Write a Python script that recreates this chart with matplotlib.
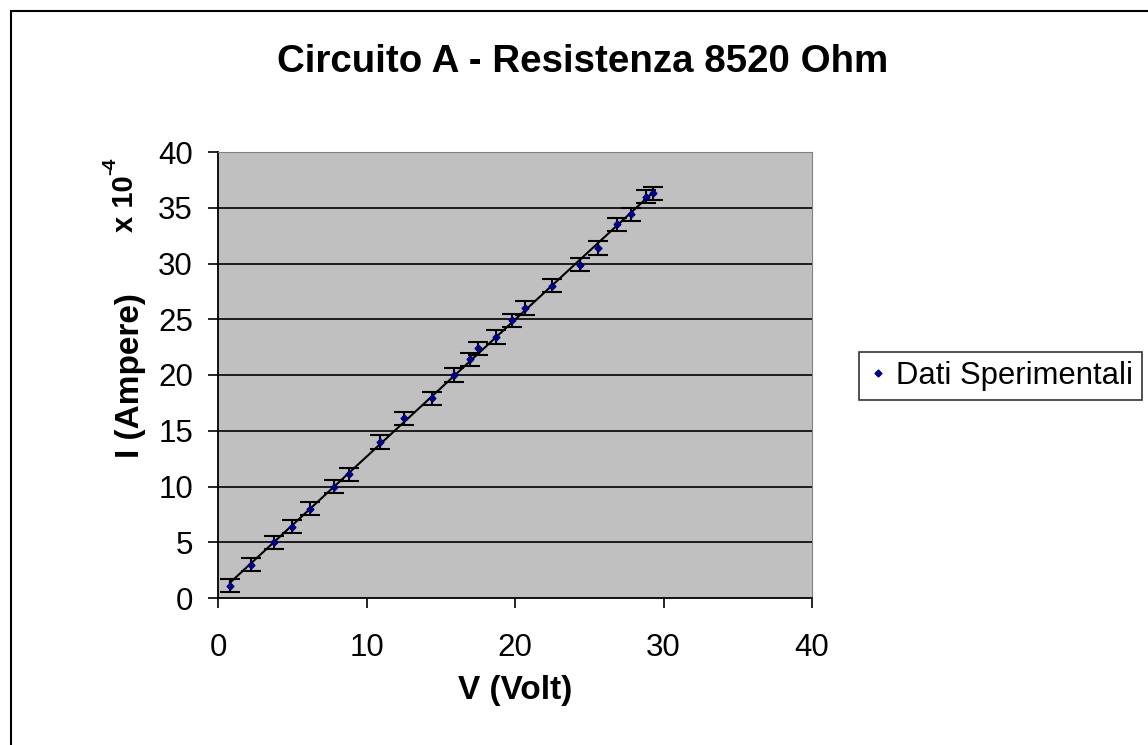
import numpy as np
import matplotlib
matplotlib.use("Agg")
from matplotlib import pyplot as plt
from matplotlib.patches import Rectangle

# data (V in Volt, I in units of 1e-4 A)
volt = [0.8, 2.2, 3.8, 5.0, 6.2, 7.8, 8.8, 10.9, 12.5, 14.4, 15.9, 17.0,
        17.5, 18.7, 19.8, 20.7, 22.5, 24.4, 25.6, 26.9, 27.8, 28.8, 29.3]
curr = [1.1, 3.0, 5.0, 6.4, 8.0, 10.0, 11.1, 14.0, 16.1, 17.9, 20.0, 21.4,
        22.4, 23.4, 24.9, 26.0, 28.0, 29.9, 31.4, 33.5, 34.4, 36.0, 36.3]
err = 0.6

x_ticks = [0, 10, 20, 30, 40]
y_ticks = [0, 5, 10, 15, 20, 25, 30, 35, 40]

plt.rcParams['font.family'] = ['Liberation Sans', 'DejaVu Sans']

W, H = 1148, 745
fig = plt.figure(figsize=(W / 100, H / 100), dpi=100)

# outer frame of the chart
fig.patches.append(Rectangle((11 / W, -0.05), 1.1, 1 - 11 / H + 0.05,
                             transform=fig.transFigure, fill=False,
                             edgecolor='black', linewidth=1.5))

ax = fig.add_axes([218 / W, 1 - 598 / H, (812 - 218) / W, (598 - 152) / H])
ax.set_facecolor('#c0c0c0')
ax.set_xlim(0, 40)
ax.set_ylim(0, 40)
ax.set_xticks(x_ticks)
ax.set_yticks(y_ticks)
ax.tick_params(axis='both', direction='out', length=7, width=1.2, labelsize=22.5)
ax.tick_params(axis='x', pad=18)
ax.tick_params(axis='y', pad=11)
for y in y_ticks[1:-1]:
    ax.axhline(y, color='black', linewidth=1.2, zorder=1)
ax.spines['left'].set_linewidth(1.3)
ax.spines['bottom'].set_linewidth(1.3)
ax.spines['top'].set_color('#808080')
ax.spines['right'].set_color('#808080')

# trend line (least squares on the data)
m, q = np.polyfit(volt, curr, 1)
xs = np.array([min(volt), max(volt)])
ax.plot(xs, m * xs + q, color='black', linewidth=1.5, zorder=2)

ax.errorbar(volt, curr, yerr=err, fmt='none', ecolor='black',
            elinewidth=1.5, capsize=7.5, capthick=1.5, zorder=3)
ax.plot(volt, curr, linestyle='none', marker='D', markersize=3.5,
        color='#000080', label='Dati Sperimentali', zorder=4)

fig.text(583 / W, 1 - 62 / H, 'Circuito A - Resistenza 8520 Ohm',
         ha='center', va='center', fontsize=27.7, fontweight='bold')
fig.text(515 / W, 1 - 690 / H, 'V (Volt)', ha='center', va='center',
         fontsize=24, fontweight='bold')
fig.text(130 / W, 1 - 376 / H, 'I (Ampere)', ha='center', va='center',
         rotation=90, fontsize=24, fontweight='bold')
fig.text(125 / W, 1 - 204 / H, 'x 10', ha='center', va='center',
         rotation=90, fontsize=21, fontweight='bold')
fig.text(111 / W, 1 - 166 / H, '-4', ha='center', va='center',
         rotation=90, fontsize=14, fontweight='bold')

leg = fig.legend(loc='center left', bbox_to_anchor=(859 / W, 1 - 376 / H),
                 fontsize=22.3, frameon=True, fancybox=False, borderpad=0.3,
                 handlelength=0.6, handletextpad=0.3, borderaxespad=0,
                 markerscale=1.0)
leg.get_frame().set_edgecolor('black')
leg.get_frame().set_linewidth(1.2)

fig.savefig('out.png', dpi=100)
